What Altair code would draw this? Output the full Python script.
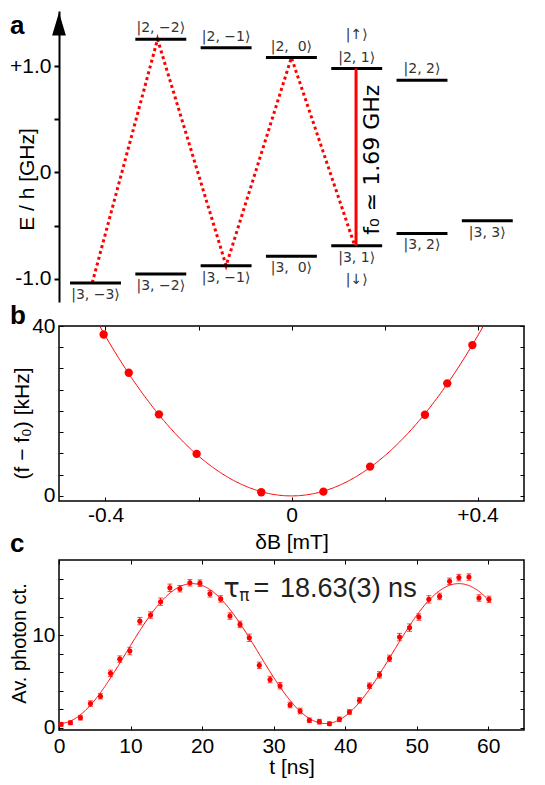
import altair as alt
import pandas as pd

FONT = "Liberation Sans"
KFONT = "DejaVu Sans"
RED = "#ff0000"

# ---------------- panel a : energy levels ----------------
lower_slot = [0, 1, 2, 3, 4, 5, 6]
lower_E = [-1.04, -0.957, -0.878, -0.79, -0.69, -0.574, -0.455]
lower_label = ["|3, −3⟩", "|3, −2⟩", "|3, −1⟩", "|3,\u00a0\u00a00⟩", "|3, 1⟩", "|3, 2⟩", "|3, 3⟩"]
upper_slot = [1, 2, 3, 4, 5]
upper_E = [1.254, 1.173, 1.082, 0.978, 0.868]
upper_label = ["|2, −2⟩", "|2, −1⟩", "|2,\u00a0\u00a00⟩", "|2, 1⟩", "|2, 2⟩"]
path_slot = [-0.05, 0.95, 2.0, 3.0, 3.97]
path_E = [-1.04, 1.254, -0.878, 1.082, -0.69]
clock_slot = [3.99]
clock_E_hi = [0.978]
clock_E_lo = [-0.69]
spin_slot = [4, 4]
spin_E = [0.978, -0.69]
spin_label = ["|↑⟩", "|↓⟩"]
f0_text = "f₀ ≃ 1.69 GHz"
a_ticks = [-1.0, -0.5, 0.0, 0.5, 1.0]

# ---------------- panel b : quadratic Zeeman shift ----------------
b_dB = [-0.404, -0.35, -0.285, -0.204, -0.065, 0.0686, 0.169, 0.287, 0.335, 0.389]
b_df = [38.0, 29.0, 19.2, 9.9, 0.86, 1.0, 6.9, 19.1, 26.5, 35.5]
b_coef = 235.0
b_xticks = [-0.4, -0.2, 0.0, 0.2, 0.4]
b_yticks = [0, 5, 10, 15, 20, 25, 30, 35, 40]

# ---------------- panel c : Rabi oscillation ----------------
c_t = [0.3, 1.6, 3.0, 4.4, 5.8, 7.2, 8.5, 9.9, 11.3, 12.8, 14.2, 15.5, 16.9, 18.3,
       19.7, 21.1, 22.6, 23.9, 25.3, 26.6, 28.0, 29.5, 30.9, 32.3, 33.7, 35.0, 36.4,
       37.8, 39.2, 40.6, 42.0, 43.4, 44.8, 46.2, 47.6, 49.0, 50.3, 51.7, 53.2, 54.6,
       55.9, 57.3, 58.7, 60.1]
c_y = [0.36, 0.54, 1.08, 2.6, 3.4, 5.87, 7.4, 8.27, 11.5, 12.16, 13.6, 15.1, 15.0, 15.64,
       15.6, 14.45, 13.9, 12.05, 11.15, 9.7, 6.73, 5.2, 4.53, 2.45, 1.8, 0.8, 0.65,
       0.43, 0.9, 1.7, 2.95, 4.53, 5.7, 7.48, 9.78, 10.8, 11.94, 13.85, 14.17, 15.8,
       16.2, 16.26, 14.0, 13.85]
c_err = [0.2, 0.2, 0.25, 0.3, 0.3, 0.35, 0.35, 0.4, 0.4, 0.35, 0.4, 0.4, 0.35, 0.35,
         0.35, 0.35, 0.35, 0.35, 0.35, 0.4, 0.35, 0.35, 0.35, 0.3, 0.3, 0.25, 0.25,
         0.2, 0.25, 0.25, 0.3, 0.3, 0.35, 0.35, 0.4, 0.4, 0.35, 0.4, 0.35, 0.35,
         0.35, 0.35, 0.35, 0.35]
c_fit_offset = 0.45
c_fit_amp = 15.1
c_tau = 18.63
c_xticks = [0, 10, 20, 30, 40, 50, 60]
c_yticks = [0, 2, 4, 6, 8, 10, 12, 14, 16]

# ================= panel a =================
A_W, A_H = 465, 291
sxa = alt.Scale(domain=[-0.559, 6.562], nice=False, zero=False)
sya = alt.Scale(domain=[-1.22, 1.52], nice=False, zero=False)

levels = pd.DataFrame({
    "slot": lower_slot + upper_slot,
    "E": lower_E + upper_E,
    "label": lower_label + upper_label,
    "row": ["lower"] * len(lower_slot) + ["upper"] * len(upper_slot),
})
path = pd.DataFrame({"slot": path_slot, "E": path_E, "ord": list(range(len(path_slot)))})
clock = pd.DataFrame({"slot": clock_slot, "hi": clock_E_hi, "lo": clock_E_lo})
spins = pd.DataFrame({"slot": spin_slot, "E": spin_E, "label": spin_label})


def XA(f):
    return alt.X(f, type="quantitative", scale=sxa, axis=None)


def YA(f, axis=None):
    return alt.Y(f, type="quantitative", scale=sya, axis=axis)


a_axis = alt.Axis(
    orient="left", values=a_ticks, grid=False, domainWidth=2, tickWidth=2, tickSize=5,
    labelExpr="datum.value == 1 ? '+1.0' : datum.value == -1 ? '-1.0' : datum.value == 0 ? '0' : ''",
    labelOverlap=False, labelPadding=3, title="E / h [GHz]", titleX=-22, titleY=168,
)

a_dots = alt.Chart(path).mark_line(color=RED, strokeWidth=3, strokeDash=[3, 3]).encode(
    x=XA("slot"), y=YA("E"), order="ord:Q")
a_levels = alt.Chart(levels).transform_calculate(
    x1="datum.slot - 0.39", x2="datum.slot + 0.39"
).mark_rule(color="black", strokeWidth=3).encode(
    x=XA("x1"), x2="x2:Q", y=YA("E", a_axis))
a_clock = alt.Chart(clock).mark_rule(color=RED, strokeWidth=3).encode(
    x=XA("slot"), y=YA("hi"), y2="lo:Q")
a_up = alt.Chart(levels).transform_filter("datum.row == 'upper'").mark_text(
    font=KFONT, fontSize=14, color="#333", baseline="bottom", dy=-4).encode(
    x=XA("slot"), y=YA("E"), text="label:N")
a_low = alt.Chart(levels).transform_filter("datum.row == 'lower'").mark_text(
    font=KFONT, fontSize=14, color="#333", baseline="top", dy=5).encode(
    x=XA("slot"), y=YA("E"), text="label:N")
a_spin_up = alt.Chart(spins).transform_filter("datum.label == '|↑⟩'").mark_text(
    font=KFONT, fontSize=14, color="#333", baseline="bottom", dy=-27).encode(
    x=XA("slot"), y=YA("E"), text="label:N")
a_spin_dn = alt.Chart(spins).transform_filter("datum.label == '|↓⟩'").mark_text(
    font=KFONT, fontSize=14, color="#333", baseline="top", dy=27).encode(
    x=XA("slot"), y=YA("E"), text="label:N")
a_f0 = alt.Chart(pd.DataFrame({"slot": [4.24], "E": [0.12], "t": [f0_text]})).mark_text(
    font=KFONT, fontSize=22, angle=270, color="black", baseline="middle").encode(
    x=XA("slot"), y=YA("E"), text="t:N")
a_arrow = alt.Chart(pd.DataFrame({"slot": [-0.559], "E": [1.397]})).mark_point(
    shape="M0,-1L0.6,1L-0.6,1Z", size=529, filled=True, color="black", opacity=1).encode(
    x=XA("slot"), y=YA("E"))
a_letter = alt.Chart(pd.DataFrame({"slot": [-1.309], "E": [1.303], "t": ["a"]})).mark_text(
    font=FONT, fontSize=26, fontWeight="bold", align="left", baseline="alphabetic", color="black").encode(
    x=XA("slot"), y=YA("E"), text="t:N")

panel_a = alt.layer(a_dots, a_levels, a_clock, a_up, a_low, a_spin_up, a_spin_dn, a_f0,
                    a_arrow, a_letter).resolve_axis(x="independent", y="independent").properties(
    width=A_W, height=A_H, view=alt.ViewBackground(stroke=None))

# ================= panel b =================
sxb = alt.Scale(domain=[-0.5, 0.5], nice=False, zero=False)
syb = alt.Scale(domain=[-1.2, 40], nice=False, zero=False)
TK = 4

bx_axis = alt.Axis(orient="bottom", values=b_xticks, grid=False, domain=False, offset=-TK, tickSize=TK,
                   labelExpr="datum.value == 0.4 ? '+0.4' : datum.value == -0.4 ? '-0.4' : datum.value == 0 ? '0' : ''",
                   labelFlush=False, labelOverlap=False, labelPadding=3, title="δB [mT]", titlePadding=6)
by_axis = alt.Axis(orient="left", values=b_yticks, grid=False, domain=False, offset=-TK, tickSize=TK,
                   labelExpr="datum.value == 0 || datum.value == 40 ? datum.label : ''",
                   labelOverlap=False, labelPadding=4, title="(f − f₀) [kHz]", titleX=-31, titleY=97)
bx_top = alt.Axis(orient="top", values=b_xticks, grid=False, domain=False, offset=-TK, tickSize=TK,
                  labels=False, title=None)
by_right = alt.Axis(orient="right", values=b_yticks, grid=False, domain=False, offset=-TK, tickSize=TK,
                    labels=False, title=None)

b_points = alt.Chart(pd.DataFrame({"dB": b_dB, "df": b_df})).mark_circle(
    size=70, color=RED, opacity=1).encode(
    x=alt.X("dB:Q", scale=sxb, axis=bx_axis), y=alt.Y("df:Q", scale=syb, axis=by_axis))
b_fit = alt.Chart(alt.sequence(-0.5, 0.5001, 0.0025, as_="dB")).transform_calculate(
    df=f"{b_coef} * datum.dB * datum.dB").mark_line(color=RED, strokeWidth=1, clip=True).encode(
    x=alt.X("dB:Q", scale=sxb, axis=bx_top), y=alt.Y("df:Q", scale=syb, axis=by_right))
b_letters = alt.Chart(pd.DataFrame({"dB": [-0.6054, -0.6054], "df": [40.47, -13.2], "t": ["b", "c"]})).mark_text(
    font=FONT, fontSize=26, fontWeight="bold", align="left", baseline="alphabetic", color="black").encode(
    x=alt.X("dB:Q", scale=sxb, axis=None), y=alt.Y("df:Q", scale=syb, axis=None), text="t:N")

panel_b = alt.layer(b_fit, b_points, b_letters).resolve_axis(x="independent", y="independent").properties(
    width=465, height=175, view=alt.ViewBackground(stroke="black", strokeWidth=1.5))

# ================= panel c =================
sxc = alt.Scale(domain=[0, 65], nice=False, zero=False)
syc = alt.Scale(domain=[-0.25, 18.1], nice=False, zero=False)

cx_axis = alt.Axis(orient="bottom", values=c_xticks, grid=False, domain=False, offset=-TK, tickSize=TK,
                   labelFlush=False, labelOverlap=False, labelPadding=5, title="t [ns]", titlePadding=0)
cy_axis = alt.Axis(orient="left", values=c_yticks, grid=False, domain=False, offset=-TK, tickSize=TK,
                   labelExpr="datum.value == 0 || datum.value == 10 ? datum.label : ''",
                   labelOverlap=False, labelPadding=4, title="Av. photon ct.", titleX=-34, titleY=83,
                   titleFontSize=20)
cx_top = alt.Axis(orient="top", values=c_xticks, grid=False, domain=False, offset=-TK, tickSize=TK,
                  labels=False, title=None)
cy_right = alt.Axis(orient="right", values=c_yticks, grid=False, domain=False, offset=-TK, tickSize=TK,
                    labels=False, title=None)

c_data = pd.DataFrame({"t": c_t, "y": c_y, "e": c_err})
c_base = alt.Chart(c_data).transform_calculate(lo="datum.y - datum.e", hi="datum.y + datum.e")
c_bars = c_base.mark_rule(color=RED, strokeWidth=1).encode(
    x=alt.X("t:Q", scale=sxc, axis=None), y=alt.Y("lo:Q", scale=syc, axis=None), y2="hi:Q")
c_cap_lo = c_base.mark_tick(color=RED, orient="horizontal", size=5, thickness=1).encode(
    x=alt.X("t:Q", scale=sxc, axis=None), y=alt.Y("lo:Q", scale=syc, axis=None))
c_cap_hi = c_base.mark_tick(color=RED, orient="horizontal", size=5, thickness=1).encode(
    x=alt.X("t:Q", scale=sxc, axis=None), y=alt.Y("hi:Q", scale=syc, axis=None))
c_points = alt.Chart(c_data).mark_circle(size=26, color=RED, opacity=1).encode(
    x=alt.X("t:Q", scale=sxc, axis=cx_axis), y=alt.Y("y:Q", scale=syc, axis=cy_axis))
c_fit = alt.Chart(alt.sequence(0, 60.31, 0.1, as_="t")).transform_calculate(
    y=f"{c_fit_offset} + {c_fit_amp} * (1 - cos(PI * datum.t / {c_tau})) / 2").mark_line(
    color=RED, strokeWidth=1).encode(
    x=alt.X("t:Q", scale=sxc, axis=cx_top), y=alt.Y("y:Q", scale=syc, axis=cy_right))
ann = pd.DataFrame({"t": [23.0, 25.2, 27.2, 30.9], "y": [14.96] * 4,
                    "s": ["τ", "π", "=", "18.63(3) ns"], "part": ["tau", "pi", "eq", "val"]})
c_tau_txt = alt.Chart(ann).transform_filter("datum.part == 'tau'").mark_text(
    font=KFONT, fontSize=27, align="left", baseline="middle", color="#222").encode(
    x=alt.X("t:Q", scale=sxc, axis=None), y=alt.Y("y:Q", scale=syc, axis=None), text="s:N")
c_pi_txt = alt.Chart(ann).transform_filter("datum.part == 'pi'").mark_text(
    font=KFONT, fontSize=17, align="left", baseline="middle", dy=7, color="#222").encode(
    x=alt.X("t:Q", scale=sxc, axis=None), y=alt.Y("y:Q", scale=syc, axis=None), text="s:N")
c_val_txt = alt.Chart(ann).transform_filter("datum.part == 'eq' || datum.part == 'val'").mark_text(
    font=FONT, fontSize=27, align="left", baseline="middle", color="#222").encode(
    x=alt.X("t:Q", scale=sxc, axis=None), y=alt.Y("y:Q", scale=syc, axis=None), text="s:N")

panel_c = alt.layer(c_fit, c_bars, c_cap_lo, c_cap_hi, c_points, c_tau_txt, c_pi_txt, c_val_txt).resolve_axis(
    x="independent", y="independent").properties(
    width=465, height=170, view=alt.ViewBackground(stroke="black", strokeWidth=1.5))

chart = alt.vconcat(panel_a, panel_b, panel_c, spacing=0).properties(
    padding={"left": 0, "top": 3, "right": 0, "bottom": 0}
).configure_axis(
    labelFont=FONT, titleFont=FONT, labelFontSize=21, titleFontSize=21, titleFontWeight="normal",
    labelColor="black", titleColor="black", tickColor="black", domainColor="black",
).configure_view(stroke=None)

chart.save("out.html", embed_options={"renderer": "svg", "actions": False})
